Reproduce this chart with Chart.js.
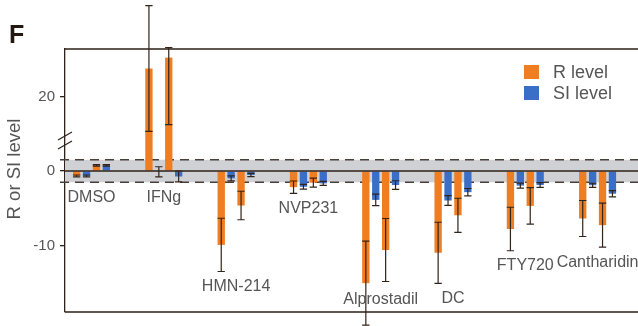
<!DOCTYPE html>
<html>
<head>
<meta charset="utf-8">
<script src="https://cdn.jsdelivr.net/npm/chart.js@4.4.1/dist/chart.umd.min.js"></script>
<style>
  html, body { margin: 0; padding: 0; background: #fff; overflow: hidden; }
  #wrap { width: 638px; height: 326px; }
</style>
</head>
<body>
<div id="wrap"><canvas id="chart" width="638" height="326"></canvas></div>
<script>
// Data
const categories = ['DMSO', 'IFNg', 'HMN-214', 'NVP231', 'Alprostadil', 'DC', 'FTY720', 'Cantharidin'];
// replicate 1 / replicate 2, R and SI level; errors are +/- or [down, up]
const r1 = [-0.65, 26.3, -9.85, -2.15, -14.95, -10.9, -7.73, -6.33];
const r1Err = [0.12, 14.15, 3.55, 0.82, 5.6, 4.07, 2.9, 2.4];
const si1 = [-0.65, -0.1, -0.98, -2.1, -3.85, -3.93, -1.95, -1.9];
const si1Err = [0.12, 0.67, 0.33, 0.31, 0.76, 0.64, 0.33, 0.27];
const r2 = [0.75, 28.75, -4.6, -1.55, -10.53, -5.9, -4.65, -7.22];
const r2Err = [0.1, [15.05, 2.25], 1.9, 0.6, 4.2, 2.27, 2.44, 2.93];
const si2 = [0.75, -0.73, -0.53, -1.65, -1.87, -2.82, -1.87, -3.03];
const si2Err = [0.1, 0.73, 0.22, 0.27, 0.57, 0.49, 0.31, 0.42];
const yTicks = [-10, 0, 20];
const band = [-1.5, 1.5];
const legendLabels = ['R level', 'SI level'];

const ORANGE = '#ef7d22';
const BLUE = '#3b6fc7';
const DARK = '#2e2119';
const GREY_TXT = '#555555';
const FONT = '"Liberation Sans", Arial, sans-serif';

// axis break: lower part up to 4, upper part from 10 (compressed)
const BRK_LO = 4, BRK_HI = 10, UP_RATIO = 0.593;
function squash(v) {
    if (v <= BRK_LO) return v;
    if (v >= BRK_HI) return BRK_LO + (v - BRK_HI) * UP_RATIO;
    return BRK_LO;
}
function unsquash(u) {
    if (u <= BRK_LO) return u;
    return BRK_HI + (u - BRK_LO) / UP_RATIO;
}

const LinearScale = Chart.LinearScale || Chart.registry.getScale('linear');
class BrokenScale extends LinearScale {
    getPixelForValue(v) {
        return super.getPixelForValue(v === null || v === undefined ? v : squash(v));
    }
    getValueForPixel(p) {
        return unsquash(super.getValueForPixel(p));
    }
}
BrokenScale.id = 'broken';
BrokenScale.defaults = LinearScale.defaults;
Chart.register(BrokenScale);

function toPoints(arr) {
    return arr.map((v, i) => ({ x: i, y: v }));
}

const series = [
    { vals: r1, err: r1Err, color: ORANGE },
    { vals: si1, err: si1Err, color: BLUE },
    { vals: r2, err: r2Err, color: ORANGE },
    { vals: si2, err: si2Err, color: BLUE }
];

function errRange(v, e) {
    const down = Array.isArray(e) ? e[0] : e;
    const up = Array.isArray(e) ? e[1] : e;
    return [v - down, v + up];
}

const decor = {
    id: 'decor',
    beforeDatasetsDraw(chart) {
        const { ctx, chartArea: a, scales: { y } } = chart;
        const yTop = y.getPixelForValue(band[1]);
        const yBot = y.getPixelForValue(band[0]);
        ctx.save();
        ctx.fillStyle = '#cfd1d4';
        ctx.fillRect(a.left, yTop, a.right - a.left, yBot - yTop);
        ctx.strokeStyle = '#4a3e38';
        ctx.lineWidth = 1.3;
        ctx.setLineDash([9, 6]);
        [yTop, yBot].forEach(yy => {
            ctx.beginPath();
            ctx.moveTo(a.left - 5, yy);
            ctx.lineTo(a.right, yy);
            ctx.stroke();
        });
        ctx.restore();
    },
    afterDatasetsDraw(chart) {
        const { ctx, chartArea: a, scales: { y } } = chart;
        ctx.save();

        // zero line
        const y0 = y.getPixelForValue(0);
        ctx.strokeStyle = DARK;
        ctx.lineWidth = 1.3;
        ctx.beginPath();
        ctx.moveTo(a.left, y0);
        ctx.lineTo(a.right, y0);
        ctx.stroke();

        // error bars
        ctx.strokeStyle = '#33241b';
        ctx.lineWidth = 1.2;
        const lowest = categories.map(() => y0);
        series.forEach((s, di) => {
            const meta = chart.getDatasetMeta(di);
            meta.data.forEach((bar, i) => {
                const [lo, hi] = errRange(s.vals[i], s.err[i]);
                const pLo = y.getPixelForValue(lo);
                const pHi = y.getPixelForValue(hi);
                const half = bar.width / 2;
                ctx.beginPath();
                ctx.moveTo(bar.x, pLo);
                ctx.lineTo(bar.x, pHi);
                ctx.moveTo(bar.x - half, pLo);
                ctx.lineTo(bar.x + half, pLo);
                ctx.moveTo(bar.x - half, pHi);
                ctx.lineTo(bar.x + half, pHi);
                ctx.stroke();
                lowest[i] = Math.max(lowest[i], pLo);
            });
        });

        // frame top and bottom
        ctx.strokeStyle = DARK;
        ctx.lineWidth = 1.3;
        ctx.beginPath();
        ctx.moveTo(a.left, a.top);
        ctx.lineTo(a.right, a.top);
        ctx.moveTo(a.left, a.bottom);
        ctx.lineTo(a.right, a.bottom);
        ctx.stroke();

        // axis break marks
        const yb = (y.getPixelForValue(BRK_LO) + y.getPixelForValue(BRK_HI)) / 2;
        ctx.lineWidth = 1.2;
        ctx.beginPath();
        ctx.moveTo(a.left - 7, yb - 1);
        ctx.lineTo(a.left + 7, yb - 9);
        ctx.moveTo(a.left - 7, yb + 8);
        ctx.lineTo(a.left + 7, yb);
        ctx.stroke();

        // group labels, just below the lowest error bar of each group
        const bandBot = y.getPixelForValue(band[0]);
        const xs = chart.scales.x;
        ctx.fillStyle = GREY_TXT;
        ctx.font = '16px ' + FONT;
        ctx.textAlign = 'center';
        ctx.textBaseline = 'middle';
        categories.forEach((c, i) => {
            let ly = Math.max(lowest[i], bandBot) + 15;
            ly = Math.min(ly, a.bottom - 12);
            ctx.fillText(c, xs.getPixelForValue(i), ly);
        });

        // legend
        const lx = 524, ly0 = 65;
        [ORANGE, BLUE].forEach((col, k) => {
            ctx.fillStyle = col;
            ctx.fillRect(lx, ly0 + k * 21, 15, 14);
            ctx.fillStyle = GREY_TXT;
            ctx.font = '18px ' + FONT;
            ctx.textAlign = 'left';
            ctx.textBaseline = 'middle';
            ctx.fillText(legendLabels[k], lx + 29, ly0 + 8 + k * 21);
        });

        // y title
        ctx.save();
        ctx.translate(15, 169);
        ctx.rotate(-Math.PI / 2);
        ctx.font = '18.5px ' + FONT;
        ctx.textAlign = 'center';
        ctx.textBaseline = 'middle';
        ctx.fillStyle = GREY_TXT;
        ctx.fillText('R or SI level', 0, 0);
        ctx.restore();

        // panel letter
        ctx.fillStyle = '#221810';
        ctx.font = 'bold 25px ' + FONT;
        ctx.textAlign = 'left';
        ctx.textBaseline = 'alphabetic';
        ctx.fillText('F', 9, 43);

        ctx.restore();
    }
};

const ctx = document.getElementById('chart').getContext('2d');
new Chart(ctx, {
    type: 'bar',
    data: {
        datasets: series.map((s, i) => ({
            label: legendLabels[i % 2],
            data: toPoints(s.vals),
            backgroundColor: s.color,
            borderWidth: 0,
            categoryPercentage: 0.548,
            barPercentage: 0.74
        }))
    },
    options: {
        responsive: false,
        animation: false,
        events: [],
        layout: { padding: { top: 49, bottom: 14, left: 0, right: 0 } },
        plugins: {
            legend: { display: false },
            tooltip: { enabled: false }
        },
        scales: {
            x: {
                type: 'linear',
                offset: false,
                min: -0.3665,
                max: 7.559,
                afterBuildTicks: (s) => { s.ticks = categories.map((c, i) => ({ value: i })); },
                ticks: { display: false },
                grid: { display: false, drawTicks: false, offset: false },
                border: { display: false }
            },
            y: {
                type: 'broken',
                min: -18.8,
                max: 16.27,
                afterBuildTicks: (s) => { s.ticks = yTicks.map(v => ({ value: v })); },
                afterFit: (s) => { s.width = 65; },
                ticks: {
                    padding: 5,
                    color: GREY_TXT,
                    font: { family: FONT, size: 15 },
                    callback: (v) => String(v)
                },
                grid: {
                    display: true,
                    drawOnChartArea: false,
                    drawTicks: true,
                    tickLength: 5,
                    color: DARK,
                    lineWidth: 1.3
                },
                border: { display: true, color: DARK, width: 1.3 }
            }
        }
    },
    plugins: [decor]
});
</script>
</body>
</html>
